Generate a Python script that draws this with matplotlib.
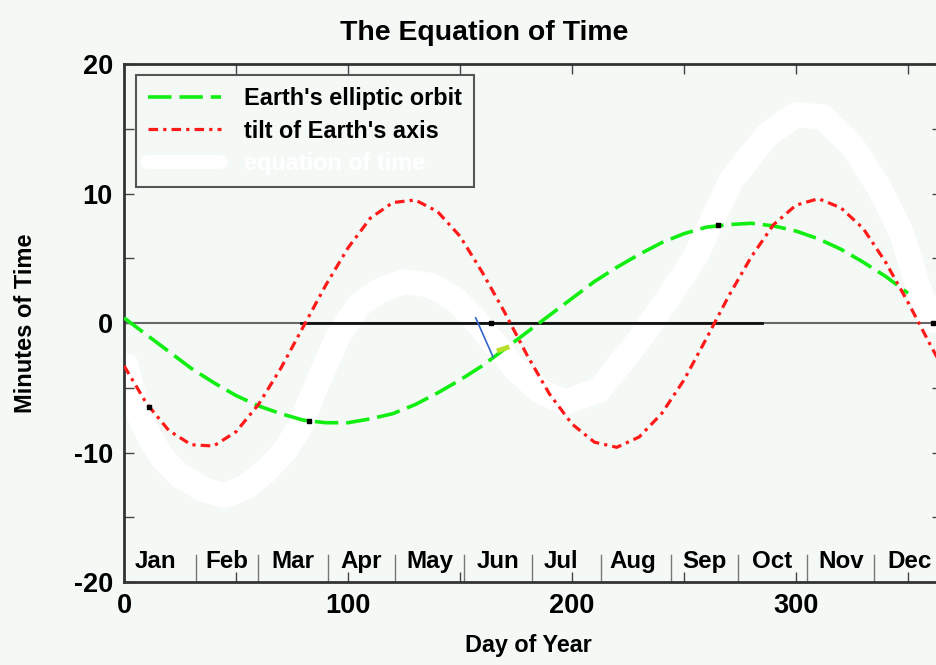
import matplotlib.pyplot as plt

# day of year / minutes
tilt_days = [0, 10, 20, 30, 40, 50, 60, 70, 80, 90, 100, 110, 120, 130, 140, 150, 160, 170, 180,
             190, 200, 210, 220, 230, 240, 250, 260, 270, 280, 290, 300, 310, 320, 330, 340, 350,
             360, 365]
tilt = [-3.3, -6.2, -8.3, -9.4, -9.5, -8.4, -6.3, -3.5, -0.3, 2.9, 5.8, 8.1, 9.3, 9.5, 8.6, 6.7,
        3.9, 0.8, -2.5, -5.5, -7.8, -9.2, -9.6, -8.8, -7.0, -4.4, -1.2, 2.1, 5.1, 7.6, 9.1, 9.6,
        8.9, 7.3, 4.7, 1.6, -1.7, -3.3]

orbit_days = [0, 10, 20, 30, 40, 50, 60, 70, 80, 90, 100, 110, 120, 130, 140, 150, 160, 170,
              180, 190, 200, 210, 220, 230, 240, 250, 260, 270, 280, 290, 300, 310, 320, 330,
              340, 350]
orbit = [0.4, -0.9, -2.2, -3.5, -4.6, -5.6, -6.4, -7.0, -7.5, -7.7, -7.7, -7.4, -7.0, -6.3, -5.4,
         -4.4, -3.3, -2.0, -0.7, 0.6, 1.9, 3.2, 4.3, 5.3, 6.2, 6.9, 7.4, 7.6, 7.7, 7.5, 7.1, 6.5,
         5.7, 4.7, 3.6, 2.3]

# the thick white (hand drawn) sum curve
eot_days = [1, 4, 7, 12, 18, 25, 36, 45, 54, 63, 72, 79, 84, 90, 96, 105, 114, 125, 137, 148,
            157, 166, 175, 186, 197, 212, 230, 244, 255, 271, 287, 300, 312, 325, 337, 347, 354,
            360]
eot = [-3.3, -5.5, -7.2, -9.0, -10.6, -11.8, -12.9, -13.3, -12.7, -11.5, -9.8, -7.9, -5.6, -3.2,
       -0.9, 1.4, 2.5, 3.2, 2.9, 1.8, 0.2, -1.7, -3.6, -5.3, -6.1, -5.2, -1.3, 2.2, 5.1, 11.0,
       14.5, 16.1, 15.9, 13.7, 10.5, 7.0, 3.1, 0.2]

months = ['Jan', 'Feb', 'Mar', 'Apr', 'May', 'Jun', 'Jul', 'Aug', 'Sep', 'Oct', 'Nov', 'Dec']
month_label_days = [14, 46, 75.5, 106, 136.5, 167, 195, 227, 259, 289.5, 320, 350.5]
month_starts = [32, 60, 91, 121, 152, 182, 213, 244, 274, 305, 335]

# stray marks left on the scanned chart
zero_dark = [79, 285]
blue_days = [157, 164.7]
blue_vals = [0.4, -2.6]
dot_days = [11, 82.5, 265, 164, 361]
dot_vals = [-6.5, -7.6, 7.6, 0.0, 0.0]
smudge_days = [167.5, 171]
smudge_vals = [-2.1, -1.9]

bg = '#f5f9f5'
plt.rcParams['font.family'] = ['Liberation Sans', 'DejaVu Sans']
plt.rcParams['font.weight'] = 'bold'

fig = plt.figure(figsize=(9.36, 6.65), dpi=100, facecolor=bg)
ax = fig.add_axes([0.13248, 0.12481, 0.87350, 0.77895])
ax.set_facecolor(bg)

ax.plot(eot_days, eot, color='white', lw=18, solid_capstyle='round', solid_joinstyle='round',
        zorder=1, label='equation of time')
ax.axhline(0, color='#666666', lw=1.5, zorder=2)
ax.plot(zero_dark, [0, 0], color='#111111', lw=2, zorder=2)
ax.plot(orbit_days, orbit, color='#11ee11', lw=2.6, dashes=(6.5, 2.2), zorder=3,
        label="Earth's elliptic orbit")
ax.plot(tilt_days, tilt, color='#ff1a1a', lw=2.3, dashes=(3, 1.6, 1, 1.6), zorder=3,
        label="tilt of Earth's axis")
ax.plot(blue_days, blue_vals, color='#3366cc', lw=1.2, zorder=4)
ax.plot(smudge_days, smudge_vals, color='#b8e02a', lw=3.5, zorder=4)
ax.scatter(dot_days, dot_vals, s=6, color='black', marker='s', zorder=4)

# month strip along the bottom
for d in month_starts:
    ax.plot([d, d], [-20, -17.9], color='#777777', lw=1, zorder=2)
for name, d in zip(months, month_label_days):
    ax.text(d, -18.4, name, ha='center', va='center', fontsize=17.4, zorder=4)

ax.set_xlim(0, 365)
ax.set_ylim(-20, 20)
ax.set_xticks(range(0, 351, 50))
ax.set_xticklabels([str(t) if t % 100 == 0 else '' for t in range(0, 351, 50)])
ax.set_yticks(range(-20, 21, 5))
ax.set_yticklabels([str(t) if t % 10 == 0 else '' for t in range(-20, 21, 5)])
ax.tick_params(direction='in', length=7, width=1, color='#444444', top=True, right=True,
               labelsize=19.5, pad=8)
for s in ax.spines.values():
    s.set_color('#333333')
    s.set_linewidth(2)

h, l = ax.get_legend_handles_labels()
order = [1, 2, 0]
leg = ax.legend([h[i] for i in order], [l[i] for i in order], loc='upper left',
                bbox_to_anchor=(0.0147, 0.9788), borderaxespad=0, fontsize=16.9,
                handlelength=3.1, handletextpad=1.0, labelspacing=0.42, borderpad=0.5,
                fancybox=False, facecolor=bg, edgecolor='#555555', framealpha=1)
leg.get_frame().set_linewidth(1.5)
leg.get_texts()[2].set_color('white')
leg.legend_handles[2].set_linewidth(10)

fig.text(0.517, 0.9398, 'The Equation of Time', ha='center', va='baseline', fontsize=20.4)
fig.text(0.564, 0.0195, 'Day of Year', ha='center', va='baseline', fontsize=16.8)
fig.text(0.027, 0.5143, 'Minutes of Time', ha='center', va='center', rotation=90, fontsize=17)

fig.savefig('out.png', dpi=100, facecolor=bg)
